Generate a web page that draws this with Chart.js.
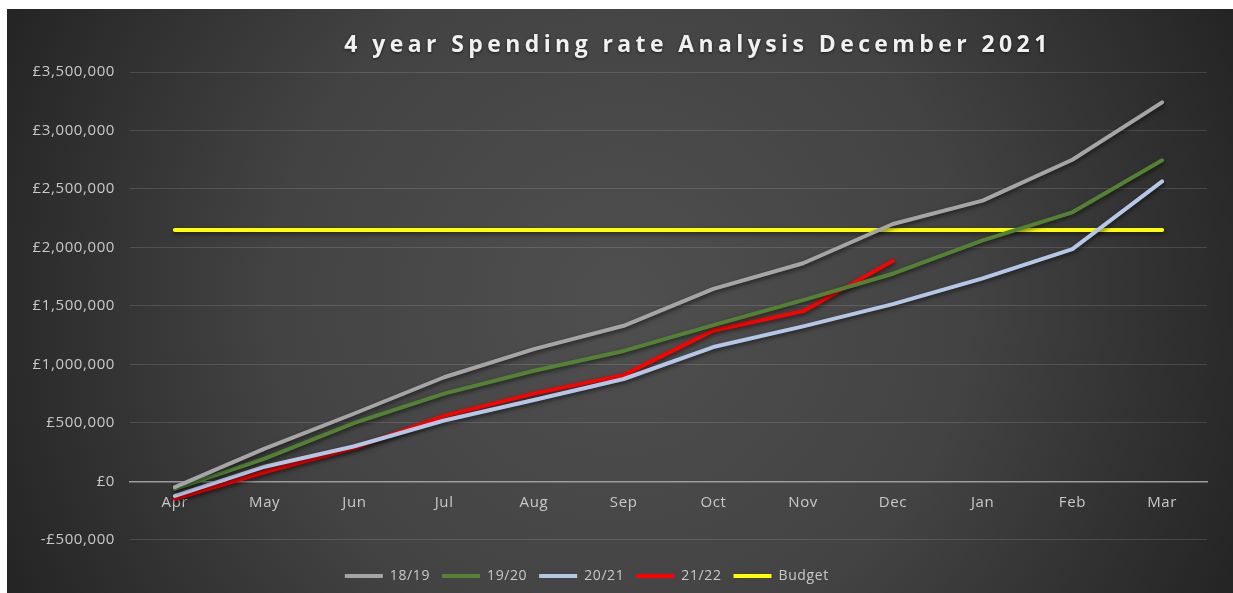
<!DOCTYPE html>
<html>
<head>
<meta charset="utf-8">
<script src="https://cdn.jsdelivr.net/npm/chart.js@4.4.0/dist/chart.umd.min.js"></script>
<style>
  body { margin: 0; background: #fff; }
  #wrap { position: absolute; left: 7px; top: 9px; width: 1226px; height: 584px; }
</style>
</head>
<body>
<div id="wrap"><canvas id="chart"></canvas></div>
<script>
// Monthly cumulative spend
const months = ['Apr', 'May', 'Jun', 'Jul', 'Aug', 'Sep', 'Oct', 'Nov', 'Dec', 'Jan', 'Feb', 'Mar'];
const spend1819 = [-50000, 280000, 580000, 890000, 1130000, 1330000, 1645000, 1865000, 2200000, 2400000, 2750000, 3240000];
const spend1920 = [-65000, 195000, 500000, 750000, 945000, 1115000, 1335000, 1550000, 1775000, 2060000, 2300000, 2745000];
const spend2021 = [-125000, 125000, 300000, 520000, 695000, 875000, 1148000, 1325000, 1515000, 1735000, 1985000, 2565000];
const spend2122 = [-150000, 80000, 285000, 560000, 750000, 908000, 1290000, 1455000, 1885000];
const budget = [2150000, 2150000, 2150000, 2150000, 2150000, 2150000, 2150000, 2150000, 2150000, 2150000, 2150000, 2150000];
const titleText = '4 year Spending rate Analysis December 2021';

const fontFamily = '"Open Sans", sans-serif';
const textColor = '#c9c9c9';

function series(label, data, color) {
    return {
        label: label,
        data: data,
        borderColor: color,
        backgroundColor: color,
        borderWidth: 4,
        borderCapStyle: 'round',
        borderJoinStyle: 'round',
        pointRadius: 0,
        pointStyle: 'line',
        tension: 0
    };
}

// dark radial background, line shadows, spaced-out title
const backdrop = {
    id: 'backdrop',
    afterLayout(chart) {
        // legend sits a little left of centre in the original
        chart.legend.left -= 28;
        chart.legend.right -= 28;
    },
    beforeDraw(chart) {
        const ctx = chart.ctx;
        const w = chart.width, h = chart.height;
        const g = ctx.createRadialGradient(w * 0.5, h * 0.5, 0, w * 0.5, h * 0.5, 690);
        g.addColorStop(0, '#4f4f4f');
        g.addColorStop(0.5, '#434343');
        g.addColorStop(1, '#232323');
        ctx.save();
        ctx.fillStyle = g;
        ctx.fillRect(0, 0, w, h);
        ctx.restore();
        ctx.letterSpacing = '0.6px';
    },
    beforeDatasetDraw(chart) {
        const ctx = chart.ctx;
        ctx.save();
        ctx.shadowColor = 'rgba(0,0,0,0.55)';
        ctx.shadowBlur = 4;
        ctx.shadowOffsetX = 1;
        ctx.shadowOffsetY = 2;
    },
    afterDatasetDraw(chart) {
        chart.ctx.restore();
    },
    afterDraw(chart) {
        const ctx = chart.ctx;
        ctx.save();
        ctx.letterSpacing = '4.4px';
        ctx.font = 'bold 23px ' + fontFamily;
        ctx.fillStyle = '#f0f0f0';
        ctx.textAlign = 'center';
        ctx.textBaseline = 'middle';
        ctx.shadowColor = 'rgba(0,0,0,0.6)';
        ctx.shadowBlur = 3;
        ctx.shadowOffsetY = 1;
        ctx.fillText(titleText, 691, 36);
        ctx.restore();
    }
};

new Chart(document.getElementById('chart'), {
    type: 'line',
    data: {
        labels: months,
        datasets: [
            series('18/19', spend1819, '#a5a5a5'),
            series('19/20', spend1920, '#548235'),
            series('20/21', spend2021, '#b4c7e7'),
            series('21/22', spend2122, '#ff0000'),
            series('Budget', budget, '#ffff00')
        ]
    },
    options: {
        responsive: true,
        maintainAspectRatio: false,
        animation: false,
        layout: { padding: { top: 63, left: 0, right: 26, bottom: 0 } },
        plugins: {
            tooltip: { enabled: false },
            title: { display: false },
            legend: {
                position: 'bottom',
                title: { display: true, text: '', font: { size: 1 }, padding: { top: 8, bottom: 8 } },
                labels: {
                    usePointStyle: true,
                    pointStyle: 'line',
                    pointStyleWidth: 38,
                    boxHeight: 4,
                    padding: 12,
                    color: textColor,
                    font: { family: fontFamily, size: 14 }
                }
            }
        },
        scales: {
            x: {
                type: 'category',
                position: { y: 0 },
                offset: true,
                grid: { display: false },
                border: { color: '#9c9c9c', width: 1.5 },
                ticks: { color: textColor, font: { family: fontFamily, size: 15 }, padding: 4 }
            },
            y: {
                min: -500000,
                max: 3500000,
                afterFit(scale) { scale.width = 123; },
                grid: { color: 'rgba(255,255,255,0.13)', drawTicks: false },
                border: { display: false },
                ticks: {
                    stepSize: 500000,
                    padding: 15,
                    color: textColor,
                    font: { family: fontFamily, size: 15 },
                    callback: v => (v < 0 ? '-' : '') + '£' + Math.abs(v).toLocaleString('en-GB')
                }
            }
        }
    },
    plugins: [backdrop]
});
</script>
</body>
</html>
